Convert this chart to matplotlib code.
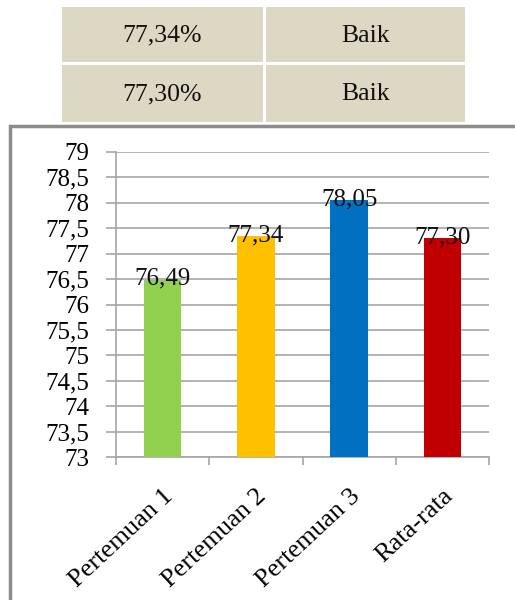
import matplotlib.pyplot as plt
import matplotlib.patches as patches
import numpy as np

#========= Data =========
categories = ["Pertemuan 1", "Pertemuan 2", "Pertemuan 3", "Rata-rata"]
values = [76.49, 77.34, 78.05, 77.30]
value_labels = ["76,49", "77,34", "78,05", "77,30"]
bar_colors = ["#92D050", "#FFC000", "#0070C0", "#C00000"]
y_ticks = [73, 73.5, 74, 74.5, 75, 75.5, 76, 76.5, 77, 77.5, 78, 78.5, 79]
y_tick_labels = ["73", "73,5", "74", "74,5", "75", "75,5", "76", "76,5",
                 "77", "77,5", "78", "78,5", "79"]
table_rows = [["77,34%", "Baik"], ["77,30%", "Baik"]]

plt.rcParams["font.family"] = ["Liberation Serif", "DejaVu Serif"]

W, H = 515, 600
fig = plt.figure(figsize=(W / 100, H / 100), dpi=100)

#========= Table on top (figure pixel coords) =========
cell_x = [(62, 263), (266, 465)]
cell_y = [(7, 62), (65, 122)]
for r, row in enumerate(table_rows):
    y0, y1 = cell_y[r]
    for c, txt in enumerate(row):
        x0, x1 = cell_x[c]
        fig.patches.append(patches.Rectangle(
            (x0 / W, 1 - y1 / H), (x1 - x0) / W, (y1 - y0) / H,
            transform=fig.transFigure, facecolor="#DDD8C3", edgecolor="none"))
        fig.text((x0 + x1) / 2 / W, 1 - ((y0 + y1) / 2 + 1) / H, txt,
                 ha="center", va="center", fontsize=18.5, color="#111111")

#========= Chart frame =========
fig.patches.append(patches.Rectangle(
    (10 / W, -0.05), 1.1, 1 - 126 / H + 0.05, transform=fig.transFigure,
    facecolor="none", edgecolor="#8C8C8C", linewidth=2.5))

#========= Bar chart =========
ax = fig.add_axes([116 / W, 1 - 457 / H, (489 - 116) / W, (457 - 152) / H])
x = np.arange(len(categories))
ax.bar(x, values, width=0.4, color=bar_colors, zorder=3, bottom=0)
ax.set_ylim(73, 79)
ax.set_xlim(-0.5, len(categories) - 0.5)

ax.set_yticks(y_ticks)
ax.set_yticklabels(y_tick_labels, fontsize=18)
ax.yaxis.grid(True, color="#A6A6A6", linewidth=1.2, zorder=0)
ax.tick_params(axis="y", length=7, width=1.2, color="#A6A6A6", pad=12)

ax.set_xticks(x)
ax.set_xticklabels(categories, rotation=43, ha="right", rotation_mode="anchor",
                   fontsize=19)
ax.tick_params(axis="x", which="major", length=0, pad=20)
ax.set_xticks(np.arange(len(categories) + 1) - 0.5, minor=True)
ax.tick_params(axis="x", which="minor", length=6, width=1.2, color="#A6A6A6")

for side in ["top", "right"]:
    ax.spines[side].set_visible(False)
for side in ["left", "bottom"]:
    ax.spines[side].set_color("#A6A6A6")
    ax.spines[side].set_linewidth(1.2)

for xi, v, lab in zip(x, values, value_labels):
    ax.text(xi, v - 0.1, lab, ha="center", va="baseline", fontsize=18,
            color="#111111", zorder=4)

ax.set_facecolor("none")
fig.savefig("out.png", dpi=100)
